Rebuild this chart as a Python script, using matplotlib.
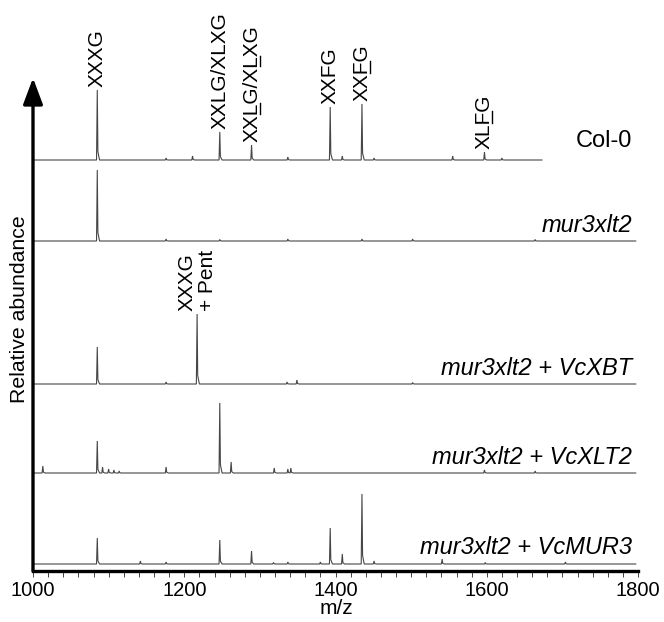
import numpy as np
import matplotlib
matplotlib.use('Agg')
import matplotlib.pyplot as plt
from matplotlib.ticker import MultipleLocator
from matplotlib.lines import Line2D

plt.rcParams['font.family'] = ['Liberation Sans', 'DejaVu Sans']

# sample names, top to bottom
samples = ['Col-0', 'mur3xlt2', 'mur3xlt2 + VcXBT', 'mur3xlt2 + VcXLT2', 'mur3xlt2 + VcMUR3']
italic = [False, True, True, True, True]
mz_end = [1673, 1797, 1797, 1797, 1797]

# peaks (m/z, relative height)
col0_mz = [1085, 1176, 1211, 1247, 1289, 1337, 1393, 1409, 1435, 1451, 1555, 1597, 1620]
col0_h = [70, 2, 4, 28, 15, 3, 53, 4, 56, 2, 4, 8, 2]
mur_mz = [1085, 1176, 1247, 1337, 1435, 1502, 1664]
mur_h = [71, 2, 1.5, 2, 2, 2, 1.5]
xbt_mz = [1085, 1176, 1217, 1336, 1349, 1502]
xbt_h = [37, 2, 70, 2, 4, 1.5]
xlt2_mz = [1013, 1085, 1092, 1100, 1107, 1114, 1176, 1247, 1262, 1319, 1337, 1341, 1597, 1664]
xlt2_h = [7, 32, 6, 4, 3, 2, 6, 70, 11, 5, 4, 5, 3, 2]
vcmur3_mz = [1085, 1142, 1176, 1247, 1289, 1318, 1337, 1380, 1393, 1409, 1435, 1451, 1541, 1598, 1704]
vcmur3_h = [26, 3, 2, 24, 13, 1.5, 2, 2, 36, 10, 70, 3, 5, 1.5, 2]

peaks_mz = [col0_mz, mur_mz, xbt_mz, xlt2_mz, vcmur3_mz]
peaks_h = [col0_h, mur_h, xbt_h, xlt2_h, vcmur3_h]

# annotated peaks (panel index, m/z, label, underlined letter positions)
ann_panel = [0, 0, 0, 0, 0, 0, 2]
ann_mz = [1085, 1247, 1289, 1393, 1435, 1597, 1217]
ann_text = ['XXXG', 'XXLG/XLXG', 'XXLG/XLXG', 'XXFG', 'XXFG', 'XLFG', 'XXXG\n+ Pent']
ann_under = [[], [], [2, 6], [], [2], [2], []]

# vertical position of each baseline (pixels above x axis)
offsets = [411, 330, 187, 98, 7]
name_gap = [13, 9, 9, 9, 10]

fig = plt.figure(figsize=(6.64, 6.22), dpi=100)
ax = fig.add_axes([33/664, 51/622, 605/664, 493/622])
ax.set_xlim(1000, 1800)
ax.set_ylim(0, 493)

for i, name in enumerate(samples):
    xs = [1000]
    ys = [0]
    for mz, h in sorted(zip(peaks_mz[i], peaks_h[i])):
        xs += [mz - 1, mz, mz + 0.8, mz + 3]
        ys += [0, h, h * 0.12, 0]
    xs.append(mz_end[i])
    ys.append(0)
    ys = np.array(ys) + offsets[i]
    ax.plot(xs, ys, color='#474747', lw=0.8, solid_joinstyle='miter')
    ax.text(1792, offsets[i] + name_gap[i], name, ha='right', va='baseline',
            fontsize=17, style='italic' if italic[i] else 'normal')

labels = []
for p, mz, txt in zip(ann_panel, ann_mz, ann_text):
    h = dict(zip(peaks_mz[p], peaks_h[p]))[mz]
    t = ax.text(mz, offsets[p] + h + 3, txt, rotation=90, ha='center', va='bottom',
                fontsize=15, multialignment='left', linespacing=1.1)
    labels.append(t)

for s in ['top', 'right', 'left']:
    ax.spines[s].set_visible(False)
ax.spines['bottom'].set_linewidth(2.4)
ax.spines['bottom'].set_capstyle('projecting')
ax.set_yticks([])
ax.xaxis.set_major_locator(MultipleLocator(200))
ax.xaxis.set_minor_locator(MultipleLocator(20))
ax.tick_params(axis='x', which='both', direction='out', length=4, width=0.7,
               color='#444444', labelsize=14.5, pad=3)

ax.annotate('', xy=(0, 1), xytext=(0, 0), xycoords='axes fraction',
            arrowprops=dict(arrowstyle='-|>,head_length=1.6,head_width=0.6',
                            mutation_scale=10, lw=2.4, color='black',
                            shrinkA=0, shrinkB=0),
            annotation_clip=False)

fig.text(20/664, 1 - 309/622, 'Relative abundance', rotation=90,
         ha='center', va='center', fontsize=15.3)
fig.text(336/664, 1 - 609/622, 'm/z', ha='center', va='center', fontsize=15)

# underline single letters of the rotated labels
fig.canvas.draw()
r = fig.canvas.get_renderer()
inv = fig.transFigure.inverted()
for t, idxs in zip(labels, ann_under):
    if not idxs:
        continue
    s = t.get_text()
    fp = t.get_fontproperties()
    bb = t.get_window_extent(r)
    d = r.get_text_width_height_descent('lp', fp, ismath=False)[2]
    x = bb.x1 - d + 2.5
    for k in idxs:
        w0 = r.get_text_width_height_descent(s[:k], fp, ismath=False)[0]
        w1 = r.get_text_width_height_descent(s[:k + 1], fp, ismath=False)[0]
        pts = inv.transform([(x, bb.y0 + w0 + 0.5), (x, bb.y0 + w1 - 0.5)])
        fig.add_artist(Line2D(pts[:, 0], pts[:, 1], transform=fig.transFigure,
                              color='black', lw=1.0))

fig.savefig('out.png', dpi=100)
